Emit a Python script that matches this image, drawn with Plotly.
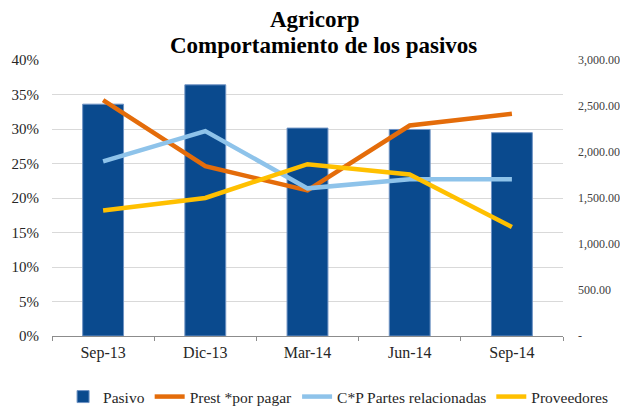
import plotly.graph_objects as go

# Data
periodos = ['Sep-13', 'Dic-13', 'Mar-14', 'Jun-14', 'Sep-14']
pasivo = [2520, 2730, 2260, 2245, 2210]
prest_por_pagar = [0.342, 0.246, 0.211, 0.305, 0.322]
cp_partes_rel = [0.253, 0.297, 0.214, 0.227, 0.227]
proveedores = [0.182, 0.200, 0.249, 0.234, 0.158]

right_ticks = [0, 500, 1000, 1500, 2000, 2500, 3000]
right_text = ['-' if v == 0 else f'{v:,.2f}' for v in right_ticks]

font_family = 'Liberation Serif'

fig = go.Figure()

# bars on the (right side) base axis so the lines on the overlay draw on top
fig.add_trace(go.Bar(x=periodos, y=pasivo, name='Pasivo', yaxis='y',
                     marker=dict(color='#0A4A8E', line=dict(color='#6F93C4', width=1)),
                     width=0.4))
fig.add_trace(go.Scatter(x=periodos, y=prest_por_pagar, name='Prest *por pagar',
                         mode='lines', yaxis='y2', line=dict(color='#E46C0A', width=4.5)))
fig.add_trace(go.Scatter(x=periodos, y=cp_partes_rel, name='C*P Partes relacionadas',
                         mode='lines', yaxis='y2', line=dict(color='#8EC3EA', width=4.5)))
fig.add_trace(go.Scatter(x=periodos, y=proveedores, name='Proveedores',
                         mode='lines', yaxis='y2', line=dict(color='#FFC000', width=4.5)))

# title as two annotations for tighter line spacing
fig.add_annotation(text='<b>Agricorp</b>', xref='paper', yref='paper', x=0.514, y=1.145,
                   yanchor='middle', showarrow=False,
                   font=dict(family=font_family, size=23, color='black'))
fig.add_annotation(text='<b>Comportamiento de los pasivos</b>', xref='paper', yref='paper',
                   x=0.532, y=1.053, yanchor='middle', showarrow=False,
                   font=dict(family=font_family, size=23, color='black'))

# page body adds an 8px margin, so the figure is 8px smaller than the window
fig.update_layout(
    width=620, height=403,
    margin=dict(l=44, r=65, t=52, b=75, autoexpand=False),
    paper_bgcolor='white', plot_bgcolor='white',
    font=dict(family=font_family, size=16, color='#262626'),
    xaxis=dict(showline=True, linecolor='#8C8C8C', linewidth=1,
               ticks='outside', tickson='boundaries', ticklen=4, tickcolor='#8C8C8C',
               showgrid=False, tickfont=dict(size=16), ticklabelstandoff=2),
    yaxis=dict(side='right', range=[0, 3000], tickvals=right_ticks, ticktext=right_text,
               showgrid=False, zeroline=False, tickfont=dict(size=12, color='#404040'),
               ticklabelstandoff=14),
    yaxis2=dict(side='left', overlaying='y', range=[0, 0.4], dtick=0.05, tickformat='.0%',
                showgrid=True, gridcolor='#D9D9D9', gridwidth=1, zeroline=False,
                tickfont=dict(size=15), ticklabelstandoff=12),
    legend=dict(orientation='h', x=1.098, xanchor='right', y=-0.221, yanchor='middle',
                font=dict(family=font_family, size=15.5), itemwidth=30, tracegroupgap=0),
    showlegend=True,
)

fig.write_html('out.html')
